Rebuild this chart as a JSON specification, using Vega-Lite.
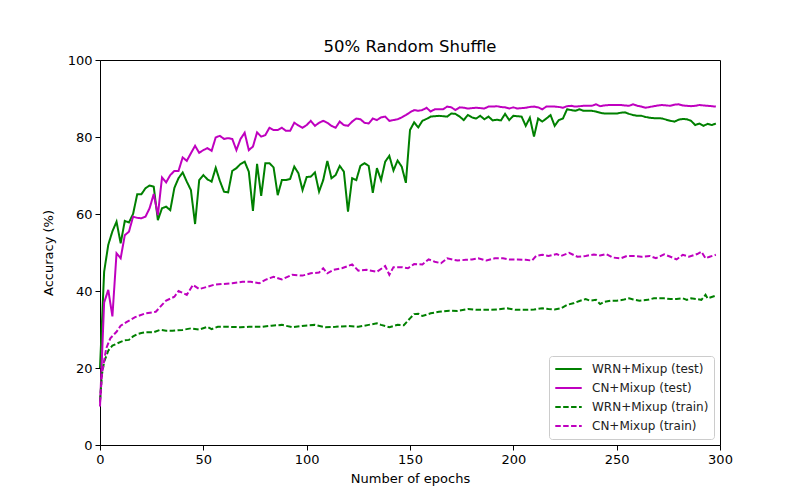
{
  "$schema": "https://vega.github.io/schema/vega-lite/v6.json",
  "width": 620,
  "height": 385,
  "autosize": "none",
  "padding": {"left": 100, "top": 60, "right": 80, "bottom": 55},
  "background": "white",
  "title": {
    "text": "50% Random Shuffle",
    "font": "DejaVu Sans",
    "fontSize": 16.5,
    "fontWeight": "normal",
    "color": "black",
    "anchor": "middle",
    "offset": -1
  },
  "datasets": {
    "wrn_test": [
      {"epoch":0,"acc":20},{"epoch":2,"acc":45},{"epoch":4,"acc":52},{"epoch":6,"acc":55.5},{"epoch":8,"acc":58},{"epoch":10,"acc":52.4},{"epoch":12,"acc":58.2},{"epoch":14,"acc":57.8},{"epoch":16,"acc":60},{"epoch":18,"acc":65.1},
      {"epoch":20,"acc":65.1},{"epoch":22,"acc":66.7},{"epoch":24,"acc":67.4},{"epoch":26,"acc":67.1},{"epoch":28,"acc":58.4},{"epoch":30,"acc":61.5},{"epoch":32,"acc":61.9},{"epoch":34,"acc":61},{"epoch":36,"acc":66.8},{"epoch":38,"acc":69.3},
      {"epoch":40,"acc":70.8},{"epoch":42,"acc":68.4},{"epoch":44,"acc":66.2},{"epoch":46,"acc":57.4},{"epoch":48,"acc":68.8},{"epoch":50,"acc":70.1},{"epoch":52,"acc":69},{"epoch":54,"acc":68.4},{"epoch":56,"acc":72},{"epoch":58,"acc":68.6},
      {"epoch":60,"acc":65.8},{"epoch":62,"acc":65.6},{"epoch":64,"acc":71.2},{"epoch":66,"acc":71.9},{"epoch":68,"acc":73},{"epoch":70,"acc":73.6},{"epoch":72,"acc":71},{"epoch":74,"acc":60.8},{"epoch":76,"acc":73},{"epoch":78,"acc":64.7},
      {"epoch":80,"acc":73.2},{"epoch":82,"acc":73.2},{"epoch":84,"acc":72.1},{"epoch":86,"acc":64.9},{"epoch":88,"acc":68.8},{"epoch":90,"acc":68.8},{"epoch":92,"acc":69.1},{"epoch":94,"acc":72.3},{"epoch":96,"acc":70.6},{"epoch":98,"acc":66.2},
      {"epoch":100,"acc":69.6},{"epoch":102,"acc":69.7},{"epoch":104,"acc":70.8},{"epoch":106,"acc":65.8},{"epoch":108,"acc":68.8},{"epoch":110,"acc":73.8},{"epoch":112,"acc":69.3},{"epoch":114,"acc":70.1},{"epoch":116,"acc":72.5},{"epoch":118,"acc":71},
      {"epoch":120,"acc":60.6},{"epoch":122,"acc":69.3},{"epoch":124,"acc":68.8},{"epoch":126,"acc":72.5},{"epoch":128,"acc":73.2},{"epoch":130,"acc":72.5},{"epoch":132,"acc":65.5},{"epoch":134,"acc":71.9},{"epoch":136,"acc":68.8},{"epoch":138,"acc":73.6},
      {"epoch":140,"acc":75.1},{"epoch":142,"acc":71.3},{"epoch":144,"acc":73.9},{"epoch":146,"acc":72.3},{"epoch":148,"acc":68.1},{"epoch":150,"acc":81.8},{"epoch":152,"acc":83.8},{"epoch":154,"acc":82.5},{"epoch":156,"acc":84.2},{"epoch":158,"acc":84.7},
      {"epoch":160,"acc":85.3},{"epoch":162,"acc":85.4},{"epoch":164,"acc":85.5},{"epoch":166,"acc":85.4},{"epoch":168,"acc":85.3},{"epoch":170,"acc":86.1},{"epoch":172,"acc":86},{"epoch":174,"acc":85.3},{"epoch":176,"acc":84.4},{"epoch":178,"acc":85.7},
      {"epoch":180,"acc":85.1},{"epoch":182,"acc":84.8},{"epoch":184,"acc":85.5},{"epoch":186,"acc":84.6},{"epoch":188,"acc":85.3},{"epoch":190,"acc":84.3},{"epoch":192,"acc":84.5},{"epoch":194,"acc":84.3},{"epoch":196,"acc":86},{"epoch":198,"acc":84.4},
      {"epoch":200,"acc":85.5},{"epoch":202,"acc":85.4},{"epoch":204,"acc":85.3},{"epoch":206,"acc":82.9},{"epoch":208,"acc":85},{"epoch":210,"acc":80.1},{"epoch":212,"acc":84.8},{"epoch":214,"acc":84},{"epoch":216,"acc":84.8},{"epoch":218,"acc":85.7},
      {"epoch":220,"acc":82.9},{"epoch":222,"acc":84.4},{"epoch":224,"acc":84.8},{"epoch":226,"acc":87.2},{"epoch":228,"acc":87},{"epoch":230,"acc":86.8},{"epoch":232,"acc":87.2},{"epoch":234,"acc":86.8},{"epoch":236,"acc":86.8},{"epoch":238,"acc":86.8},
      {"epoch":240,"acc":86.6},{"epoch":242,"acc":86.3},{"epoch":244,"acc":86.1},{"epoch":246,"acc":86.1},{"epoch":248,"acc":86.1},{"epoch":250,"acc":86.1},{"epoch":252,"acc":86.3},{"epoch":254,"acc":86.4},{"epoch":256,"acc":86},{"epoch":258,"acc":85.7},
      {"epoch":260,"acc":85.5},{"epoch":262,"acc":85.5},{"epoch":264,"acc":85.2},{"epoch":266,"acc":85},{"epoch":268,"acc":84.9},{"epoch":270,"acc":84.9},{"epoch":272,"acc":84.8},{"epoch":274,"acc":84.5},{"epoch":276,"acc":84.2},{"epoch":278,"acc":84},
      {"epoch":280,"acc":84.5},{"epoch":282,"acc":84.7},{"epoch":284,"acc":84.6},{"epoch":286,"acc":84.2},{"epoch":288,"acc":83.1},{"epoch":290,"acc":83.5},{"epoch":292,"acc":82.9},{"epoch":294,"acc":83.4},{"epoch":296,"acc":83.1},{"epoch":298,"acc":83.5}
    ],
    "cn_test": [
      {"epoch":0,"acc":10},{"epoch":2,"acc":37},{"epoch":4,"acc":40.3},{"epoch":6,"acc":33.4},{"epoch":8,"acc":49.8},{"epoch":10,"acc":48.5},{"epoch":12,"acc":54.5},{"epoch":14,"acc":55.4},{"epoch":16,"acc":59.3},{"epoch":18,"acc":59},
      {"epoch":20,"acc":58.9},{"epoch":22,"acc":59.3},{"epoch":24,"acc":61.5},{"epoch":26,"acc":65.2},{"epoch":28,"acc":59.7},{"epoch":30,"acc":69.5},{"epoch":32,"acc":68.2},{"epoch":34,"acc":70.1},{"epoch":36,"acc":71.2},{"epoch":38,"acc":71.2},
      {"epoch":40,"acc":74.7},{"epoch":42,"acc":73.8},{"epoch":44,"acc":75.8},{"epoch":46,"acc":77.7},{"epoch":48,"acc":75.9},{"epoch":50,"acc":76.6},{"epoch":52,"acc":77.1},{"epoch":54,"acc":76.4},{"epoch":56,"acc":79.9},{"epoch":58,"acc":80.3},
      {"epoch":60,"acc":79.5},{"epoch":62,"acc":79.7},{"epoch":64,"acc":79.5},{"epoch":66,"acc":76.6},{"epoch":68,"acc":79.5},{"epoch":70,"acc":81.1},{"epoch":72,"acc":76.6},{"epoch":74,"acc":77.5},{"epoch":76,"acc":81.2},{"epoch":78,"acc":80.1},
      {"epoch":80,"acc":80.5},{"epoch":82,"acc":82.4},{"epoch":84,"acc":81.8},{"epoch":86,"acc":81.8},{"epoch":88,"acc":82.4},{"epoch":90,"acc":81.6},{"epoch":92,"acc":81.6},{"epoch":94,"acc":83.7},{"epoch":96,"acc":83},{"epoch":98,"acc":82.4},
      {"epoch":100,"acc":83.1},{"epoch":102,"acc":84.2},{"epoch":104,"acc":82.9},{"epoch":106,"acc":83.7},{"epoch":108,"acc":84.2},{"epoch":110,"acc":83.7},{"epoch":112,"acc":82.9},{"epoch":114,"acc":82.4},{"epoch":116,"acc":84},{"epoch":118,"acc":83.1},
      {"epoch":120,"acc":82.9},{"epoch":122,"acc":84},{"epoch":124,"acc":84.8},{"epoch":126,"acc":84.6},{"epoch":128,"acc":83.7},{"epoch":130,"acc":83.5},{"epoch":132,"acc":84.8},{"epoch":134,"acc":84.4},{"epoch":136,"acc":85.1},{"epoch":138,"acc":85.3},
      {"epoch":140,"acc":84.2},{"epoch":142,"acc":84.4},{"epoch":144,"acc":84.6},{"epoch":146,"acc":85.1},{"epoch":148,"acc":85.7},{"epoch":150,"acc":86.4},{"epoch":152,"acc":87},{"epoch":154,"acc":86.8},{"epoch":156,"acc":87},{"epoch":158,"acc":87.6},
      {"epoch":160,"acc":86.6},{"epoch":162,"acc":87.2},{"epoch":164,"acc":87.2},{"epoch":166,"acc":87.2},{"epoch":168,"acc":87.9},{"epoch":170,"acc":87.7},{"epoch":172,"acc":87},{"epoch":174,"acc":87.7},{"epoch":176,"acc":87.6},{"epoch":178,"acc":87.4},
      {"epoch":180,"acc":87.5},{"epoch":182,"acc":87.6},{"epoch":184,"acc":87.5},{"epoch":186,"acc":87.4},{"epoch":188,"acc":87.9},{"epoch":190,"acc":87.9},{"epoch":192,"acc":88},{"epoch":194,"acc":87.8},{"epoch":196,"acc":87.7},{"epoch":198,"acc":87.4},
      {"epoch":200,"acc":87.7},{"epoch":202,"acc":87.4},{"epoch":204,"acc":87.5},{"epoch":206,"acc":87.6},{"epoch":208,"acc":87.8},{"epoch":210,"acc":87.9},{"epoch":212,"acc":87.7},{"epoch":214,"acc":87.2},{"epoch":216,"acc":87.9},{"epoch":218,"acc":87.9},
      {"epoch":220,"acc":87.9},{"epoch":222,"acc":87.8},{"epoch":224,"acc":87.6},{"epoch":226,"acc":88},{"epoch":228,"acc":88.1},{"epoch":230,"acc":87.9},{"epoch":232,"acc":88},{"epoch":234,"acc":88.1},{"epoch":236,"acc":88.1},{"epoch":238,"acc":88.1},
      {"epoch":240,"acc":88.5},{"epoch":242,"acc":88},{"epoch":244,"acc":88.2},{"epoch":246,"acc":88.3},{"epoch":248,"acc":88.3},{"epoch":250,"acc":88.3},{"epoch":252,"acc":88.3},{"epoch":254,"acc":88.2},{"epoch":256,"acc":88.1},{"epoch":258,"acc":88.5},
      {"epoch":260,"acc":88.1},{"epoch":262,"acc":87.9},{"epoch":264,"acc":87.6},{"epoch":266,"acc":87.8},{"epoch":268,"acc":88},{"epoch":270,"acc":88.2},{"epoch":272,"acc":88.3},{"epoch":274,"acc":88.2},{"epoch":276,"acc":88.1},{"epoch":278,"acc":88.4},
      {"epoch":280,"acc":88.5},{"epoch":282,"acc":88.2},{"epoch":284,"acc":88.1},{"epoch":286,"acc":88},{"epoch":288,"acc":88.1},{"epoch":290,"acc":88.3},{"epoch":292,"acc":88.2},{"epoch":294,"acc":88.1},{"epoch":296,"acc":88},{"epoch":298,"acc":87.9}
    ],
    "wrn_train": [
      {"epoch":0,"acc":11.5},{"epoch":1,"acc":18.5},{"epoch":2,"acc":21.6},{"epoch":4,"acc":24.5},{"epoch":6,"acc":25.8},{"epoch":8,"acc":26.3},{"epoch":10,"acc":26.8},{"epoch":12,"acc":27.2},{"epoch":14,"acc":27.3},{"epoch":16,"acc":28.2},
      {"epoch":18,"acc":28.8},{"epoch":20,"acc":29.1},{"epoch":22,"acc":29.3},{"epoch":26,"acc":29.3},{"epoch":29,"acc":29.9},{"epoch":32,"acc":29.7},{"epoch":35,"acc":29.7},{"epoch":40,"acc":29.9},{"epoch":44,"acc":30.3},{"epoch":48,"acc":30},
      {"epoch":52,"acc":30.7},{"epoch":54,"acc":30.1},{"epoch":57,"acc":30.7},{"epoch":62,"acc":30.7},{"epoch":68,"acc":30.6},{"epoch":72,"acc":30.7},{"epoch":78,"acc":30.7},{"epoch":83,"acc":31},{"epoch":88,"acc":31.2},{"epoch":93,"acc":30.6},
      {"epoch":99,"acc":31},{"epoch":104,"acc":31.2},{"epoch":109,"acc":30.6},{"epoch":114,"acc":30.7},{"epoch":120,"acc":30.9},{"epoch":125,"acc":30.7},{"epoch":130,"acc":31.2},{"epoch":134,"acc":31.6},{"epoch":136,"acc":31.2},{"epoch":140,"acc":30.6},
      {"epoch":144,"acc":31.2},{"epoch":147,"acc":31.1},{"epoch":150,"acc":32.9},{"epoch":152,"acc":34},{"epoch":154,"acc":34.1},{"epoch":156,"acc":33.5},{"epoch":160,"acc":34.2},{"epoch":164,"acc":34.6},{"epoch":169,"acc":34.9},{"epoch":173,"acc":34.8},
      {"epoch":178,"acc":35.3},{"epoch":182,"acc":35.1},{"epoch":187,"acc":35.1},{"epoch":192,"acc":35.2},{"epoch":197,"acc":35.5},{"epoch":201,"acc":35.1},{"epoch":206,"acc":35.1},{"epoch":210,"acc":35.2},{"epoch":214,"acc":35.5},{"epoch":217,"acc":35.3},
      {"epoch":220,"acc":35.2},{"epoch":223,"acc":35.5},{"epoch":226,"acc":36.4},{"epoch":229,"acc":36.8},{"epoch":232,"acc":37.4},{"epoch":235,"acc":37.9},{"epoch":237,"acc":37.5},{"epoch":240,"acc":37.7},{"epoch":242,"acc":36.6},{"epoch":244,"acc":37.2},
      {"epoch":247,"acc":37.5},{"epoch":250,"acc":37.5},{"epoch":253,"acc":37.7},{"epoch":256,"acc":38.1},{"epoch":258,"acc":37.8},{"epoch":261,"acc":37.5},{"epoch":265,"acc":37.7},{"epoch":268,"acc":38.1},{"epoch":273,"acc":38.1},{"epoch":276,"acc":37.9},
      {"epoch":279,"acc":37.9},{"epoch":282,"acc":38.1},{"epoch":284,"acc":37.7},{"epoch":286,"acc":38.1},{"epoch":289,"acc":37.9},{"epoch":291,"acc":37.7},{"epoch":293,"acc":39},{"epoch":294,"acc":38.1},{"epoch":298,"acc":38.8}
    ],
    "cn_train": [
      {"epoch":0,"acc":11},{"epoch":1,"acc":18.6},{"epoch":3,"acc":25.1},{"epoch":5,"acc":27.7},{"epoch":8,"acc":29.4},{"epoch":10,"acc":31},{"epoch":13,"acc":32},{"epoch":17,"acc":33.2},{"epoch":22,"acc":34.2},{"epoch":27,"acc":34.6},
      {"epoch":30,"acc":36.4},{"epoch":32,"acc":37.5},{"epoch":36,"acc":38.5},{"epoch":38,"acc":40},{"epoch":42,"acc":39},{"epoch":45,"acc":41.6},{"epoch":48,"acc":40.5},{"epoch":52,"acc":41.1},{"epoch":55,"acc":41.6},{"epoch":59,"acc":41.8},
      {"epoch":64,"acc":42},{"epoch":69,"acc":42.4},{"epoch":73,"acc":42.4},{"epoch":77,"acc":42},{"epoch":80,"acc":42.9},{"epoch":84,"acc":43.7},{"epoch":88,"acc":43},{"epoch":93,"acc":44.2},{"epoch":98,"acc":44},{"epoch":102,"acc":44.6},
      {"epoch":106,"acc":44.8},{"epoch":108,"acc":45.9},{"epoch":110,"acc":44.6},{"epoch":113,"acc":45.5},{"epoch":117,"acc":45.9},{"epoch":122,"acc":46.9},{"epoch":125,"acc":45.3},{"epoch":129,"acc":45.5},{"epoch":134,"acc":45},{"epoch":138,"acc":46.5},
      {"epoch":140,"acc":44.2},{"epoch":142,"acc":46.2},{"epoch":146,"acc":46.2},{"epoch":149,"acc":45.9},{"epoch":152,"acc":47},{"epoch":156,"acc":46.9},{"epoch":159,"acc":48.2},{"epoch":162,"acc":47.6},{"epoch":165,"acc":47.2},{"epoch":168,"acc":48.5},
      {"epoch":173,"acc":47.9},{"epoch":177,"acc":48.1},{"epoch":180,"acc":48.2},{"epoch":183,"acc":48.5},{"epoch":187,"acc":47.9},{"epoch":191,"acc":48.5},{"epoch":195,"acc":48.5},{"epoch":198,"acc":48.2},{"epoch":202,"acc":48.2},{"epoch":206,"acc":48.1},
      {"epoch":209,"acc":47.9},{"epoch":211,"acc":49.1},{"epoch":214,"acc":49.4},{"epoch":217,"acc":49.1},{"epoch":221,"acc":49.6},{"epoch":223,"acc":49.1},{"epoch":227,"acc":49.9},{"epoch":231,"acc":48.9},{"epoch":235,"acc":49.1},{"epoch":239,"acc":49.5},
      {"epoch":242,"acc":49.2},{"epoch":245,"acc":49.6},{"epoch":248,"acc":48.7},{"epoch":252,"acc":48.5},{"epoch":255,"acc":49.1},{"epoch":259,"acc":49.1},{"epoch":262,"acc":48.9},{"epoch":266,"acc":49.1},{"epoch":269,"acc":48.5},{"epoch":273,"acc":49.5},
      {"epoch":276,"acc":48.9},{"epoch":279,"acc":48.2},{"epoch":282,"acc":49.4},{"epoch":285,"acc":48.9},{"epoch":289,"acc":49.6},{"epoch":291,"acc":50.2},{"epoch":293,"acc":48.5},{"epoch":295,"acc":48.9},{"epoch":298,"acc":49.4}
    ]
  },
  "encoding": {
    "x": {
      "field": "epoch",
      "type": "quantitative",
      "title": "Number of epochs",
      "scale": {"domain": [0, 300], "nice": false},
      "axis": {"values": [0, 50, 100, 150, 200, 250, 300]}
    },
    "y": {
      "field": "acc",
      "type": "quantitative",
      "title": "Accuracy (%)",
      "scale": {"domain": [0, 100], "nice": false},
      "axis": {"values": [0, 20, 40, 60, 80, 100]}
    }
  },
  "layer": [
    {
      "data": {"name": "wrn_test"},
      "mark": {"type": "line", "strokeWidth": 2},
      "encoding": {
        "color": {"datum": "WRN+Mixup (test)"},
        "strokeDash": {"datum": "WRN+Mixup (test)"}
      }
    },
    {
      "data": {"name": "cn_test"},
      "mark": {"type": "line", "strokeWidth": 2},
      "encoding": {
        "color": {"datum": "CN+Mixup (test)"},
        "strokeDash": {"datum": "CN+Mixup (test)"}
      }
    },
    {
      "data": {"name": "wrn_train"},
      "mark": {"type": "line", "strokeWidth": 2},
      "encoding": {
        "color": {"datum": "WRN+Mixup (train)"},
        "strokeDash": {"datum": "WRN+Mixup (train)"}
      }
    },
    {
      "data": {"name": "cn_train"},
      "mark": {"type": "line", "strokeWidth": 2},
      "encoding": {
        "color": {
          "datum": "CN+Mixup (train)",
          "type": "nominal",
          "title": null,
          "scale": {
            "domain": ["WRN+Mixup (test)", "CN+Mixup (test)", "WRN+Mixup (train)", "CN+Mixup (train)"],
            "range": ["#008000", "#bf00bf", "#008000", "#bf00bf"]
          },
          "legend": {
            "orient": "bottom-right",
            "offset": 6,
            "symbolType": "stroke",
            "symbolSize": 700,
            "symbolStrokeWidth": 2,
            "labelFont": "DejaVu Sans",
            "labelFontSize": 12,
            "labelColor": "#222",
            "labelOffset": 9,
            "clipHeight": 16,
            "rowPadding": 3,
            "padding": 5,
            "fillColor": "white",
            "strokeColor": "#cccccc",
            "cornerRadius": 3
          }
        },
        "strokeDash": {
          "datum": "CN+Mixup (train)",
          "type": "nominal",
          "title": null,
          "scale": {
            "domain": ["WRN+Mixup (test)", "CN+Mixup (test)", "WRN+Mixup (train)", "CN+Mixup (train)"],
            "range": [[1, 0], [1, 0], [5.5, 2.4], [5.5, 2.4]]
          }
        }
      }
    }
  ],
  "config": {
    "view": {"stroke": "black", "strokeWidth": 1},
    "axis": {
      "grid": false,
      "domainColor": "black",
      "tickColor": "black",
      "tickSize": 5,
      "labelFont": "DejaVu Sans",
      "labelFontSize": 13,
      "labelColor": "black",
      "labelPadding": 3,
      "titleFont": "DejaVu Sans",
      "titleFontSize": 13,
      "titleFontWeight": "normal",
      "titleColor": "black"
    },
    "axisX": {"titlePadding": 6, "labelFlush": false},
    "axisY": {"titlePadding": 12, "labelFlush": false}
  }
}
